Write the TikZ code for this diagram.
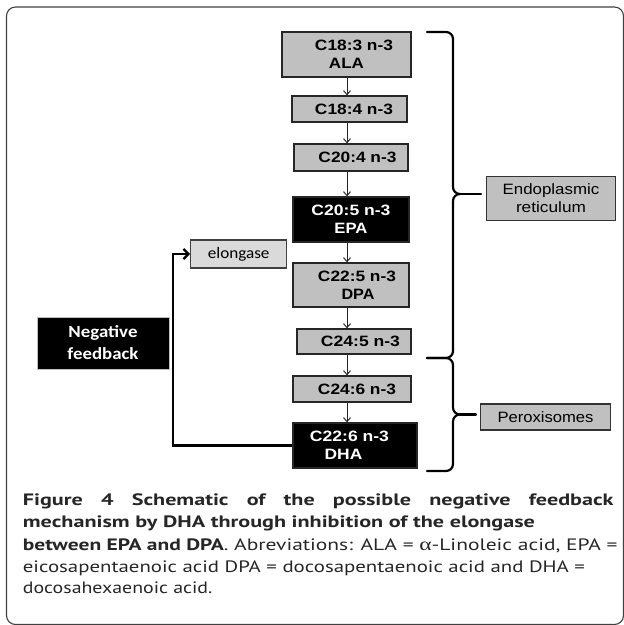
\documentclass[tikz,border=0pt]{standalone}
\usepackage{fontspec}
\usetikzlibrary{arrows.meta}
\newfontfamily\arialf{Liberation Sans}
\newfontfamily\carlf{Carlito}
\newfontfamily\capf{PT Sans}
\newfontfamily\greekf{Liberation Serif}
\definecolor{boxgray}{HTML}{C0C0C0}
\definecolor{elgray}{HTML}{DADADA}
\definecolor{captext}{HTML}{262626}
\newcommand\fitw[2]{\resizebox{#1}{\height}{#2}}
\newlength\lineLen
\begin{document}
\settowidth\lineLen{\capf\bfseries\fontsize{16.5}{22}\selectfont mechanism by DHA through inhibition of the elongase}%
\pgfmathsetmacro\capfac{512/\lineLen}%
\pgfmathsetlengthmacro\lineonew{590.6/\capfac}%
\begin{tikzpicture}[x=1pt,y=-1pt,
  chainbox/.style={draw=black!85,line width=1.3pt,fill=boxgray,inner sep=0pt,align=center,
    font=\arialf\bfseries\fontsize{15}{18}\selectfont},
  darkbox/.style={chainbox,fill=black,text=white},
  sidebox/.style={draw=black!80,line width=1.2pt,fill=boxgray,inner sep=0pt,align=center,
    font=\arialf\fontsize{15}{18}\selectfont},
  elbox/.style={draw=black!75,line width=1.2pt,fill=elgray,inner sep=0pt,
    font=\carlf\fontsize{16}{18}\selectfont},
  negbox/.style={draw=black!25,line width=1pt,fill=black,text=white,inner sep=0pt,align=center,
    font=\carlf\bfseries\fontsize{17}{22}\selectfont},
  arr/.style={draw=black!85,line width=1pt,-{Straight Barb[length=4pt,width=7pt]}},
  fb/.style={draw=black,line width=2.3pt,-{Straight Barb[length=5pt,width=10pt]}},
  bracepath/.style={draw=black,line width=2.2pt,line cap=round,line join=round},
  capnode/.style={anchor=base west,inner sep=0pt,text=captext,font=\capf\fontsize{16.5}{22}\selectfont},
  frame/.style={draw=black!75,line width=1.1pt,rounded corners=9pt}
]
\useasboundingbox (0,0) rectangle (624,625);
\path[frame] (6.5,7) rectangle (623.5,624.5);

% spine for the vertical arrows
\coordinate (spine) at (347,0);

% chain boxes
\node[chainbox,minimum width=129pt,minimum height=45pt] (ala) at (346.5,54.5)
  {\hspace*{15pt}\fitw{78pt}{C18:3 n-3}\\\fitw{35pt}{ALA}};
\node[chainbox,minimum width=115pt,minimum height=26pt] (c184) at (349.5,109)
  {\hspace*{9pt}\fitw{78pt}{C18:4 n-3}};
\node[chainbox,minimum width=114pt,minimum height=27pt] (c204) at (351,157.5)
  {\hspace*{13pt}\fitw{78pt}{C20:4 n-3}};
\node[darkbox,minimum width=116pt,minimum height=45pt] (epa) at (351,219.5)
  {\fitw{79pt}{C20:5 n-3}\\\fitw{33pt}{EPA}};
\node[chainbox,minimum width=116pt,minimum height=44pt] (dpa) at (351,285)
  {\hspace*{12pt}\fitw{78pt}{C22:5 n-3}\\\hspace*{14pt}\fitw{33pt}{DPA}};
\node[chainbox,minimum width=114pt,minimum height=25pt] (c245) at (354,341.5)
  {\hspace*{13pt}\fitw{79pt}{C24:5 n-3}};
\node[chainbox,minimum width=118pt,minimum height=26pt] (c246) at (352,389)
  {\hspace*{10pt}\fitw{78pt}{C24:6 n-3}};
\node[darkbox,minimum width=124pt,minimum height=45pt] (dha) at (355,445.5)
  {\fitw{79pt}{C22:6 n-3}\hspace*{11pt}\\\fitw{37.7pt}{DHA}\hspace*{23pt}};

% arrows along the chain
\draw[arr] (ala.south -| spine) -- (c184.north -| spine);
\draw[arr] (c184.south -| spine) -- (c204.north -| spine);
\draw[arr] (c204.south -| spine) -- (epa.north -| spine);
\draw[arr] (epa.south -| spine) -- (dpa.north -| spine);
\draw[arr] (dpa.south -| spine) -- (c245.north -| spine);
\draw[arr] (c245.south -| spine) -- (c246.north -| spine);
\draw[arr] (c246.south -| spine) -- (dha.north -| spine);

% elongase and feedback
\node[elbox,minimum width=96pt,minimum height=28pt] (elong) at (238.7,254) {\fitw{61.6pt}{elongase}};
\node[negbox,minimum width=132pt,minimum height=52pt] (neg) at (103,343)
  {\fitw{69pt}{Negative}\\\fitw{71pt}{feedback}};
\coordinate (fbtop) at (173,254);
\draw[fb] (dha.west) -| (fbtop) -- (elong.west);

% side labels
\node[sidebox,minimum width=128.6pt,minimum height=44.7pt] (er) at (551,198.5)
  {\fitw{96.7pt}{Endoplasmic}\\\fitw{70pt}{reticulum}};
\node[sidebox,minimum width=129.3pt,minimum height=26pt] (perox) at (545.5,417)
  {\fitw{96pt}{Peroxisomes}};

% braces
\coordinate (ercusp) at (460,194);
\coordinate (pxcusp) at (460,414.5);
\draw[bracepath] (427,32) -- (446,32) to[out=0,in=90] (453,39) -- (453,187)
  to[out=-90,in=180] (ercusp) to[out=180,in=90] (453,201) -- (453,351)
  to[out=-90,in=0] (446,358) -- (427,358);
\draw[bracepath] (ercusp) -- (481,194);
\draw[bracepath] (427,358) -- (446,358) to[out=0,in=90] (453,365) -- (453,407.5)
  to[out=-90,in=180] (pxcusp) to[out=180,in=90] (453,421.5) -- (453,464)
  to[out=-90,in=0] (446,471) -- (427,471);
\draw[bracepath] (pxcusp) -- (476,414.5);

% caption: line 1 uses the same horizontal stretch as line 2, then is justified
\node[capnode] (cap1) at (22.7,505)
  {\scalebox{\capfac}[1]{\makebox[\lineonew][s]{\bfseries Figure 4 Schematic of the possible negative feedback}}};
\node[capnode] (cap2) at (22.7,527.5)
  {\fitw{512pt}{\bfseries mechanism by DHA through inhibition of the elongase}};
\node[capnode] (cap3) at (22.7,550)
  {\fitw{594.6pt}{\textbf{between EPA and DPA}. Abreviations: ALA = {\greekf\fontsize{18}{22}\selectfont α}-Linoleic acid, EPA =}};
\node[capnode] (cap4) at (22.7,572)
  {\fitw{562pt}{eicosapentaenoic acid DPA = docosapentaenoic acid and DHA =}};
\node[capnode] (cap5) at (22.7,593.5) {\fitw{189.5pt}{docosahexaenoic acid.}};
\end{tikzpicture}
\end{document}
